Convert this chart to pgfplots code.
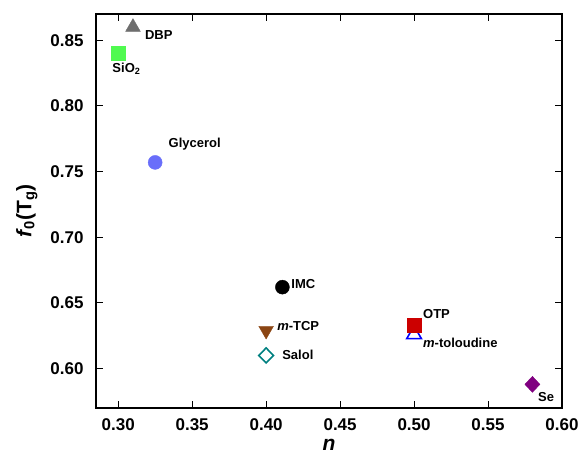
\documentclass[border=0pt]{standalone}
\usepackage{fontspec}
\setmainfont{Liberation Sans}
\usepackage{pgfplots}
\pgfplotsset{compat=1.18}
\definecolor{sio2}{RGB}{80,250,80}
\definecolor{glyc}{RGB}{105,110,250}
\definecolor{tcp}{RGB}{139,69,19}
\definecolor{salol}{RGB}{0,128,128}
\definecolor{otp}{RGB}{204,0,0}
\definecolor{sepur}{RGB}{128,0,128}
\definecolor{dbp}{RGB}{110,110,110}
\begin{document}
\begin{tikzpicture}
\begin{axis}[name=ax,
  scale only axis, width=466pt, height=394pt,
  xmin=0.285, xmax=0.60, ymin=0.570, ymax=0.870,
  xtick={0.30,0.35,...,0.60}, ytick={0.60,0.65,...,0.85},
  xticklabel style={/pgf/number format/fixed,/pgf/number format/fixed zerofill,/pgf/number format/precision=2, yshift=-7pt},
  yticklabel style={/pgf/number format/fixed,/pgf/number format/fixed zerofill,/pgf/number format/precision=2, xshift=-9pt},
  /pgf/number format/assume math mode=true,
  tick label style={font=\bfseries\fontsize{17}{17}\selectfont},
  tick align=inside, major tick length=7pt, tick style={black, line width=1pt},
  axis line style={line width=1.5pt},
  xtick pos=both, ytick pos=both,
  xlabel={\bfseries\itshape n}, ylabel={\bfseries\textit{f}\textsubscript{0}(T\textsubscript{g})},
  label style={font=\fontsize{21}{21}\selectfont},
  xlabel style={yshift=-2pt}, ylabel style={yshift=6pt},
  clip=false,
]
\addplot[only marks, mark=triangle*, mark size=8.5pt, dbp] coordinates {(0.310,0.860)};
\addplot[only marks, mark=square*, mark size=7pt, sio2] coordinates {(0.300,0.840)};
\addplot[only marks, mark=*, mark size=7pt, glyc] coordinates {(0.325,0.757)};
\addplot[only marks, mark=*, mark size=7pt, black] coordinates {(0.411,0.662)};
\addplot[only marks, mark=triangle*, mark size=8.5pt, mark options={rotate=180}, tcp] coordinates {(0.400,0.629)};
\addplot[only marks, mark=diamond, mark size=7.5pt, mark options={line width=1.6pt, xscale=1.3}, salol] coordinates {(0.400,0.610)};
\addplot[only marks, mark=triangle, mark size=8.5pt, mark options={line width=1.6pt}, blue] coordinates {(0.500,0.626)};
\addplot[only marks, mark=square*, mark size=7pt, otp] coordinates {(0.500,0.633)};
\addplot[only marks, mark=diamond*, mark size=8pt, mark options={xscale=1.25}, sepur] coordinates {(0.580,0.588)};
\begin{scope}[every node/.style={anchor=west, font=\bfseries\fontsize{13}{13}\selectfont, inner sep=0pt}]
\node at (axis cs:0.318,0.854) {DBP};
\node at (axis cs:0.296,0.828) {SiO\textsubscript{2}};
\node at (axis cs:0.334,0.771) {Glycerol};
\node at (axis cs:0.417,0.6645) {IMC};
\node at (axis cs:0.4074,0.6325) {\textit{m}-TCP};
\node at (axis cs:0.4108,0.6103) {Salol};
\node at (axis cs:0.506,0.6416) {OTP};
\node at (axis cs:0.506,0.6195) {\textit{m}-toloudine};
\node at (axis cs:0.5838,0.5786) {Se};
\end{scope}
\end{axis}
\pgfresetboundingbox
\path[use as bounding box] ([xshift=-96pt,yshift=-48pt]ax.south west) rectangle ([xshift=20pt,yshift=14pt]ax.north east);
\end{tikzpicture}
\end{document}
